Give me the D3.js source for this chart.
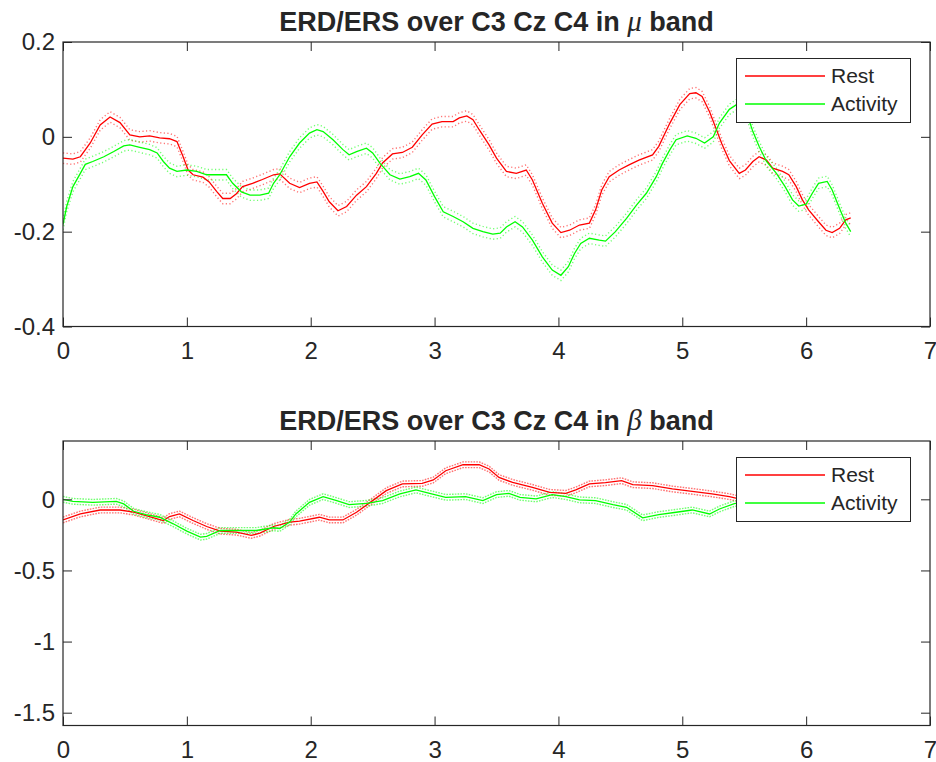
<!DOCTYPE html>
<html>
<head>
<meta charset="utf-8">
<script src="https://cdn.jsdelivr.net/npm/d3@7"></script>
<style>
  html, body { margin: 0; padding: 0; background: #fff; }
  svg { display: block; }
  text { font-family: "Liberation Sans", Arial, sans-serif; fill: #262626; }
</style>
</head>
<body>
<svg id="fig" width="936" height="762"></svg>
<script>
// ERD/ERS time courses (seconds, relative power change) averaged over C3, Cz, C4
const muRest = [[0,-0.045],[0.08,-0.047],[0.14,-0.042],[0.22,-0.013],[0.30,0.025],[0.38,0.042],[0.46,0.03],[0.54,0.004],[0.62,0.0],[0.70,0.002],[0.78,-0.002],[0.86,-0.004],[0.92,-0.01],[0.97,-0.042],[1.01,-0.07],[1.05,-0.08],[1.13,-0.085],[1.18,-0.095],[1.24,-0.115],[1.29,-0.13],[1.35,-0.13],[1.40,-0.12],[1.45,-0.105],[1.53,-0.098],[1.61,-0.09],[1.70,-0.08],[1.75,-0.078],[1.83,-0.098],[1.91,-0.107],[1.99,-0.098],[2.05,-0.095],[2.10,-0.115],[2.15,-0.137],[2.22,-0.156],[2.29,-0.147],[2.37,-0.123],[2.45,-0.105],[2.53,-0.077],[2.58,-0.055],[2.66,-0.036],[2.74,-0.033],[2.82,-0.022],[2.90,0.004],[2.98,0.027],[3.06,0.032],[3.15,0.032],[3.20,0.04],[3.26,0.044],[3.31,0.036],[3.36,0.015],[3.44,-0.017],[3.50,-0.045],[3.58,-0.073],[3.66,-0.077],[3.74,-0.07],[3.79,-0.091],[3.87,-0.14],[3.95,-0.182],[4.02,-0.202],[4.09,-0.197],[4.17,-0.186],[4.25,-0.182],[4.30,-0.154],[4.35,-0.112],[4.41,-0.084],[4.49,-0.07],[4.57,-0.059],[4.65,-0.049],[4.76,-0.038],[4.81,-0.02],[4.90,0.029],[4.98,0.068],[5.06,0.091],[5.11,0.093],[5.16,0.085],[5.22,0.053],[5.27,0.019],[5.32,-0.015],[5.38,-0.05],[5.46,-0.077],[5.51,-0.07],[5.57,-0.052],[5.62,-0.042],[5.68,-0.049],[5.73,-0.066],[5.81,-0.073],[5.86,-0.08],[5.92,-0.105],[5.97,-0.133],[6.02,-0.154],[6.10,-0.179],[6.16,-0.197],[6.21,-0.202],[6.27,-0.193],[6.32,-0.175],[6.36,-0.171]];

const muActivity = [[0,-0.185],[0.03,-0.147],[0.08,-0.105],[0.14,-0.077],[0.18,-0.058],[0.24,-0.052],[0.33,-0.042],[0.41,-0.031],[0.49,-0.019],[0.54,-0.017],[0.62,-0.022],[0.70,-0.027],[0.76,-0.034],[0.81,-0.052],[0.86,-0.066],[0.92,-0.073],[1.00,-0.07],[1.08,-0.073],[1.16,-0.08],[1.24,-0.08],[1.32,-0.08],[1.37,-0.098],[1.44,-0.116],[1.51,-0.123],[1.59,-0.123],[1.66,-0.119],[1.70,-0.098],[1.75,-0.08],[1.83,-0.042],[1.91,-0.013],[1.99,0.008],[2.05,0.015],[2.10,0.011],[2.18,-0.006],[2.26,-0.027],[2.31,-0.038],[2.37,-0.031],[2.45,-0.024],[2.50,-0.034],[2.56,-0.056],[2.64,-0.08],[2.72,-0.089],[2.80,-0.084],[2.87,-0.077],[2.93,-0.091],[3.00,-0.126],[3.07,-0.158],[3.15,-0.168],[3.23,-0.179],[3.31,-0.193],[3.39,-0.2],[3.47,-0.205],[3.53,-0.203],[3.58,-0.19],[3.65,-0.179],[3.71,-0.19],[3.79,-0.218],[3.87,-0.253],[3.95,-0.281],[4.02,-0.292],[4.08,-0.274],[4.13,-0.246],[4.18,-0.225],[4.25,-0.214],[4.33,-0.218],[4.38,-0.22],[4.46,-0.2],[4.55,-0.172],[4.63,-0.144],[4.71,-0.119],[4.79,-0.084],[4.84,-0.056],[4.90,-0.027],[4.95,-0.006],[5.04,0.002],[5.11,-0.003],[5.18,-0.013],[5.25,0.0],[5.30,0.029],[5.38,0.058],[5.45,0.07],[5.52,0.05],[5.57,0.011],[5.62,-0.02],[5.68,-0.052],[5.76,-0.077],[5.83,-0.105],[5.89,-0.133],[5.94,-0.146],[6.00,-0.142],[6.05,-0.119],[6.10,-0.098],[6.17,-0.094],[6.21,-0.112],[6.27,-0.151],[6.32,-0.182],[6.36,-0.2]];

const betaRest = [[0,-0.145],[0.14,-0.103],[0.30,-0.075],[0.46,-0.075],[0.57,-0.09],[0.67,-0.114],[0.81,-0.149],[0.86,-0.121],[0.94,-0.103],[1.05,-0.149],[1.16,-0.191],[1.27,-0.224],[1.40,-0.231],[1.52,-0.254],[1.59,-0.238],[1.70,-0.191],[1.83,-0.161],[1.91,-0.154],[2.07,-0.126],[2.15,-0.145],[2.26,-0.145],[2.37,-0.091],[2.50,-0.009],[2.61,0.061],[2.74,0.108],[2.90,0.112],[2.99,0.136],[3.09,0.201],[3.23,0.243],[3.36,0.243],[3.44,0.213],[3.52,0.154],[3.63,0.119],[3.79,0.084],[3.93,0.049],[4.06,0.042],[4.14,0.066],[4.25,0.108],[4.38,0.117],[4.51,0.131],[4.60,0.103],[4.76,0.096],[4.92,0.073],[5.08,0.056],[5.24,0.038],[5.38,0.019],[5.45,0.005],[5.50,0.0]];

const betaActivity = [[0,0.0],[0.08,-0.014],[0.24,-0.021],[0.43,-0.014],[0.49,-0.032],[0.57,-0.084],[0.67,-0.107],[0.78,-0.126],[0.89,-0.172],[1.00,-0.224],[1.11,-0.266],[1.16,-0.26],[1.27,-0.219],[1.40,-0.219],[1.56,-0.219],[1.70,-0.2],[1.75,-0.205],[1.83,-0.16],[1.88,-0.103],[1.99,-0.021],[2.10,0.019],[2.21,-0.009],[2.31,-0.037],[2.45,-0.028],[2.58,-0.009],[2.72,0.038],[2.85,0.066],[2.96,0.042],[3.09,0.014],[3.25,0.019],[3.39,-0.009],[3.50,0.033],[3.60,0.042],[3.69,0.014],[3.82,0.003],[3.95,0.033],[4.06,0.019],[4.17,-0.004],[4.30,-0.009],[4.44,-0.037],[4.55,-0.056],[4.68,-0.13],[4.81,-0.107],[4.95,-0.091],[5.08,-0.075],[5.22,-0.103],[5.30,-0.068],[5.42,-0.03],[5.50,-0.02]];

// half-width of the dotted confidence bounds around each mean trace
const muSpread = 0.011;
const betaSpread = 0.02;

const xTicks = [0, 1, 2, 3, 4, 5, 6, 7];
const muYTicks = [0.2, 0, -0.2, -0.4];
const betaYTicks = [0, -0.5, -1, -1.5];
const seriesNames = ["Rest", "Activity"];
const seriesColors = ["#ff0000", "#00ff00"];

const svg = d3.select("#fig");
const left = 63, right = 930;
const tickLen = 9;
const axisColor = "#262626";

function panel(cfg) {
  const x = d3.scaleLinear().domain([0, 7]).range([left, right]);
  const y = d3.scaleLinear().domain(cfg.yDomain).range([cfg.bottom, cfg.top]);
  const g = svg.append("g");

  // title with Greek band symbol in TeX-like italic serif
  const t = g.append("text")
    .attr("x", (left + right) / 2)
    .attr("y", cfg.top - 11)
    .attr("text-anchor", "middle")
    .style("font-weight", "bold")
    .style("font-size", "27px");
  t.append("tspan").text("ERD/ERS over C3 Cz C4 in ");
  t.append("tspan").text(cfg.symbol)
    .style("font-family", "'Liberation Serif', 'Times New Roman', serif")
    .style("font-style", "italic").style("font-weight", "normal").style("font-size", "29px");
  t.append("tspan").text(" band");

  // clip the traces to the axes box
  const clipId = "clip" + cfg.id;
  svg.append("clipPath").attr("id", clipId).append("rect")
    .attr("x", left).attr("y", cfg.top).attr("width", right - left).attr("height", cfg.bottom - cfg.top);

  const plot = g.append("g").attr("clip-path", `url(#${clipId})`);
  const line = d3.line().x(d => x(d[0])).y(d => y(d[1]));

  cfg.series.forEach((s, i) => {
    const col = seriesColors[i];
    [-1, 1].forEach(sign => {
      plot.append("path")
        .datum(s.map(d => [d[0], d[1] + sign * cfg.spread]))
        .attr("d", line)
        .attr("fill", "none")
        .attr("stroke", col)
        .attr("stroke-opacity", cfg.bandOpacity)
        .attr("stroke-width", 1.4)
        .attr("stroke-dasharray", cfg.dash);
    });
  });
  cfg.series.forEach((s, i) => {
    plot.append("path")
      .datum(s)
      .attr("d", line)
      .attr("fill", "none")
      .attr("stroke", seriesColors[i])
      .attr("stroke-width", 1.3);
  });

  // axes: bottom/left with labels, top/right mirrored ticks, all pointing inward
  const xAxis = d3.axisBottom(x).tickValues(xTicks).tickSizeInner(-tickLen).tickSizeOuter(0).tickPadding(15).tickFormat(d3.format("d"));
  const xAxisTop = d3.axisTop(x).tickValues(xTicks).tickSizeInner(-tickLen).tickSizeOuter(0).tickFormat("");
  const yAxis = d3.axisLeft(y).tickValues(cfg.yTicks).tickSizeInner(-tickLen).tickSizeOuter(0).tickPadding(8).tickFormat(d => d3.format("")(d).replace("\u2212", "-"));
  const yAxisRight = d3.axisRight(y).tickValues(cfg.yTicks).tickSizeInner(-tickLen).tickSizeOuter(0).tickFormat("");

  const axes = [
    g.append("g").attr("transform", `translate(0,${cfg.bottom})`).call(xAxis),
    g.append("g").attr("transform", `translate(0,${cfg.top})`).call(xAxisTop),
    g.append("g").attr("transform", `translate(${left},0)`).call(yAxis),
    g.append("g").attr("transform", `translate(${right},0)`).call(yAxisRight)
  ];
  axes.forEach(a => {
    a.select(".domain").remove();
    a.selectAll("line").attr("stroke", axisColor).attr("stroke-width", 1);
    a.selectAll("text").attr("fill", axisColor)
      .style("font-family", "'Liberation Sans', Arial, sans-serif")
      .style("font-size", "24px");
  });

  g.append("rect")
    .attr("x", left).attr("y", cfg.top)
    .attr("width", right - left).attr("height", cfg.bottom - cfg.top)
    .attr("fill", "none").attr("stroke", axisColor).attr("stroke-width", 1.2);

  // legend
  const lg = g.append("g").attr("transform", `translate(736.5,${Math.round(cfg.top) + 16.5})`);
  lg.append("rect").attr("width", 174).attr("height", 64)
    .attr("fill", "#fff").attr("stroke", axisColor).attr("stroke-width", 1);
  seriesNames.forEach((name, i) => {
    const yy = 17.5 + i * 28;
    lg.append("line").attr("x1", 8.5).attr("x2", 88.5).attr("y1", yy).attr("y2", yy)
      .attr("stroke", seriesColors[i]).attr("stroke-width", 1.3);
    lg.append("text").attr("x", 94.5).attr("y", yy).attr("dy", "0.35em")
      .style("font-size", "21px").text(name);
  });
}

panel({
  id: "mu", symbol: "\u03bc", top: 42, bottom: 326.5,
  yDomain: [-0.4, 0.2], yTicks: muYTicks,
  series: [muRest, muActivity], spread: muSpread, dash: "1.2,2.4", bandOpacity: 0.55
});
panel({
  id: "beta", symbol: "\u03b2", top: 441, bottom: 725.5,
  yDomain: [-1.59, 0.41], yTicks: betaYTicks,
  series: [betaRest, betaActivity], spread: betaSpread, dash: "1.6,1.2", bandOpacity: 0.55
});
</script>
</body>
</html>
